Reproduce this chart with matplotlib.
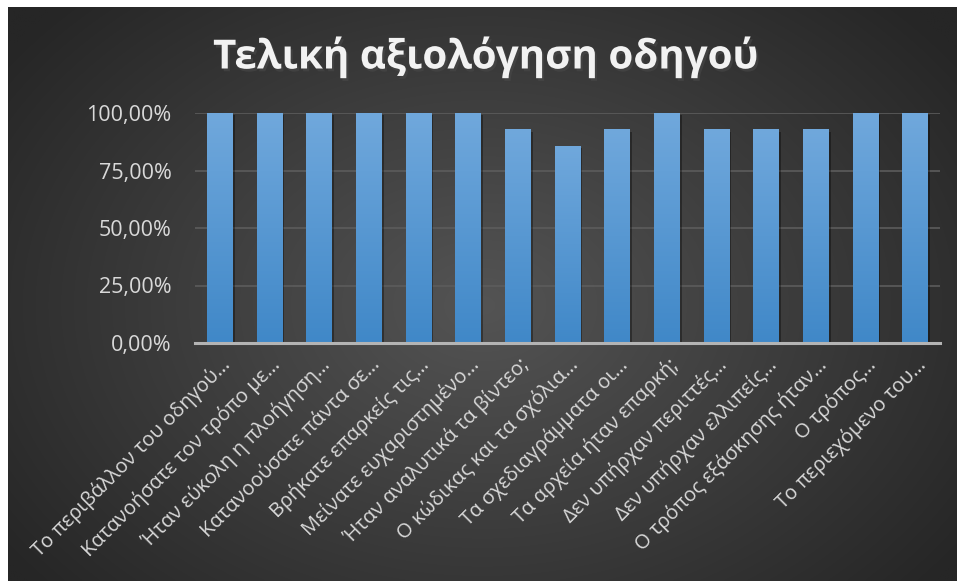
import numpy as np
import matplotlib
matplotlib.use("Agg")
import matplotlib.pyplot as plt
import matplotlib.patheffects as pe
from matplotlib.transforms import ScaledTranslation
from matplotlib.ticker import FuncFormatter

plt.rcParams['font.family'] = ['Open Sans', 'DejaVu Sans']

TITLE = "Τελική αξιολόγηση οδηγού"
questions = [
    "Το περιβάλλον του οδηγού…",
    "Κατανοήσατε τον τρόπο με…",
    "Ήταν εύκολη η πλοήγηση…",
    "Κατανοούσατε πάντα σε…",
    "Βρήκατε επαρκείς τις…",
    "Μείνατε ευχαριστημένο…",
    "Ήταν αναλυτικά τα βίντεο;",
    "Ο κώδικας και τα σχόλια…",
    "Τα σχεδιαγράμματα οι…",
    "Τα αρχεία ήταν επαρκή;",
    "Δεν υπήρχαν περιττές…",
    "Δεν υπήρχαν ελλιπείς…",
    "Ο τρόπος εξάσκησης ήταν…",
    "Ο τρόπος…",
    "Το περιεχόμενο του…",
]
scores = [1.0, 1.0, 1.0, 1.0, 1.0, 1.0, 0.9286, 0.8571, 0.9286, 1.0,
          0.9286, 0.9286, 0.9286, 1.0, 1.0]
yticks = [0, 0.25, 0.5, 0.75, 1.0]

W, H = 957, 581
fig = plt.figure(figsize=(W / 100, H / 100), dpi=100)
fig.patch.set_facecolor("white")

# --- dark radial background (white strip left/top like the screenshot) ---
bg = fig.add_axes([8 / W, 0, 1 - 8 / W, 1 - 7 / H])
bg.set_axis_off()
yy, xx = np.mgrid[0:1:300j, 0:1:500j]
d = np.sqrt(((xx - 0.5) / 0.62) ** 2 + ((yy - 0.52) / 0.75) ** 2)
d = np.clip(d, 0, 1)
c_in, c_out = np.array([0x54, 0x54, 0x54]) / 255, np.array([0x26, 0x26, 0x26]) / 255
img = c_in[None, None, :] * (1 - d[..., None]) + c_out[None, None, :] * d[..., None]
bg.imshow(img, aspect="auto", extent=[0, 1, 0, 1], interpolation="bilinear")
bg.set_xlim(0, 1)
bg.set_ylim(0, 1)

# --- main axes ---
ax = fig.add_axes([195 / W, (H - 343) / H, (940 - 195) / W, (343 - 113) / H])
ax.set_facecolor("none")
x = np.arange(len(questions))
bars = ax.bar(x, scores, width=0.52, color="#5b9bd5", zorder=3)

grad = np.linspace(0, 1, 100)[:, None]
top_c = np.array([0x70, 0xa8, 0xdc]) / 255
bot_c = np.array([0x40, 0x88, 0xc8]) / 255
grad_img = top_c[None, None, :] * (1 - grad[..., None]) + bot_c[None, None, :] * grad[..., None]
for b in bars:
    b.set_path_effects([pe.SimplePatchShadow(offset=(1.5, -1.5), shadow_rgbFace="black", alpha=0.35),
                        pe.Normal()])
    bx, by = b.get_x(), b.get_y()
    im = ax.imshow(grad_img, extent=[bx, bx + b.get_width(), by, by + b.get_height()],
                   aspect="auto", zorder=4, interpolation="bilinear")
    im.set_clip_path(b)

ax.set_xlim(-0.5, len(questions) - 0.5)
ax.set_ylim(0, 1)
ax.set_yticks(yticks)
ax.yaxis.set_major_formatter(FuncFormatter(lambda v, p: f"{v * 100:.2f}%".replace(".", ",")))
ax.grid(axis="y", color="#5c5c5c", linewidth=1.2, zorder=0)
for s in ["top", "right", "left"]:
    ax.spines[s].set_visible(False)
ax.spines["bottom"].set_color("#b4b4b4")
ax.spines["bottom"].set_linewidth(2.2)
ax.spines["bottom"].set_zorder(5)
ax.tick_params(length=0, colors="#d9d9d9")
ax.tick_params(axis="y", pad=17, labelsize=15.5)

ax.set_xticks(x)
ax.set_xticklabels(questions, rotation=45, ha="right", va="center",
                   rotation_mode="anchor", fontsize=14.5)
off = ScaledTranslation(8 / 100, -14 / 100, fig.dpi_scale_trans)
for lbl in ax.get_xticklabels():
    lbl.set_transform(lbl.get_transform() + off)

fig.text(485 / W, 1 - 57 / H, TITLE, ha="center", va="center", fontsize=29,
         fontweight="bold", color="#f2f2f2",
         path_effects=[pe.withSimplePatchShadow(offset=(1.5, -2), alpha=0.6)])

fig.savefig("out.png", dpi=100)
